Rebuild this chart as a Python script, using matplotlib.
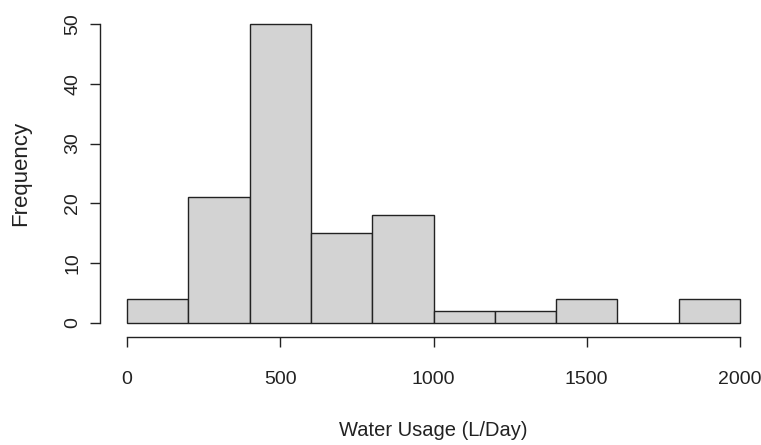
import matplotlib.pyplot as plt
import numpy as np

plt.rcParams['font.family'] = ['Liberation Sans', 'DejaVu Sans']

# histogram of daily water usage
bin_edges = [0, 200, 400, 600, 800, 1000, 1200, 1400, 1600, 1800, 2000]
counts = [4, 21, 50, 15, 18, 2, 2, 4, 0, 4]
x_ticks = [0, 500, 1000, 1500, 2000]
y_ticks = [0, 10, 20, 30, 40, 50]

W, H = 761, 445
fig = plt.figure(figsize=(W / 100, H / 100), dpi=100)
ax = fig.add_axes([127 / W, 1 - 323 / H, 613 / W, 299 / H])

edges = np.array(bin_edges)
ax.bar(edges[:-1], counts, width=np.diff(edges), align='edge',
       color='#d3d3d3', edgecolor='#222222', linewidth=1.0, clip_on=False)

ax.set_xlim(0, 2000)
ax.set_ylim(0, 50)

# R style detached axes
for s in ['top', 'right']:
    ax.spines[s].set_visible(False)
ax.spines['left'].set_position(('outward', 19.5))
ax.spines['bottom'].set_position(('outward', 10))
ax.spines['left'].set_bounds(0, 50)
ax.spines['bottom'].set_bounds(0, 2000)
for s in ['left', 'bottom']:
    ax.spines[s].set_linewidth(1.0)
    ax.spines[s].set_color('#222222')

ax.set_xticks(x_ticks)
ax.set_yticks(y_ticks)
ax.tick_params(axis='both', length=7.5, width=1.0, color='#222222',
               labelsize=14, labelcolor='#222222')
ax.tick_params(axis='x', pad=17)
ax.tick_params(axis='y', pad=6, labelrotation=90)
for lab in ax.get_yticklabels():
    lab.set_verticalalignment('center')

# axis titles placed in figure pixels
fig.text(433 / W, 1 - 431 / H, 'Water Usage (L/Day)', fontsize=14.5,
         color='#222222', ha='center', va='center')
fig.text(21 / W, 1 - 173 / H, 'Frequency', fontsize=16, color='#222222',
         ha='center', va='center', rotation=90)

fig.savefig('out.png', dpi=100)
